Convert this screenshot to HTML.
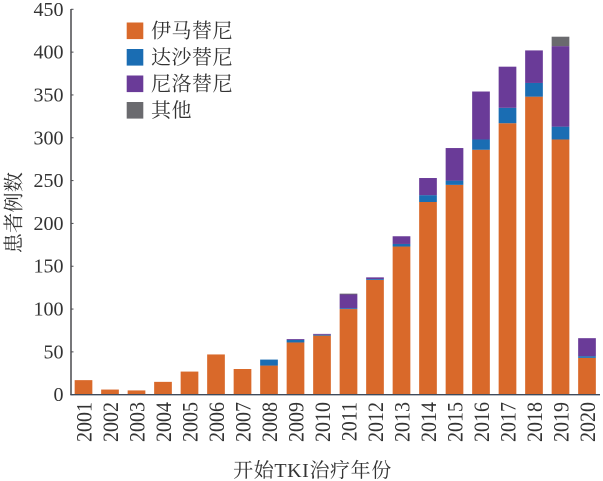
<!DOCTYPE html>
<html lang="zh">
<head>
<meta charset="utf-8">
<title>TKI chart</title>
<style>
html,body{margin:0;padding:0;background:#fff;width:603px;height:481px;overflow:hidden}
svg{display:block}
text{font-family:"Liberation Serif","Noto Serif CJK SC",serif;fill:#333;font-size:20px}
</style>
</head>
<body>
<svg id="chart" width="603" height="481" viewBox="0 0 603 481" xmlns="http://www.w3.org/2000/svg">
  <g id="bars"></g>
  <g id="y-ticks"></g>
  <g id="x-labels"></g>
  <line x1="71" y1="9" x2="71" y2="395" stroke="#4a4a4e" stroke-width="1.5"/>
  <line x1="70.3" y1="394.7" x2="600" y2="394.7" stroke="#3f4a5a" stroke-width="1.4"/>
  <text text-anchor="middle" letter-spacing="0.4" transform="translate(20.5,212.5) rotate(-90)">患者例数</text>
  <text x="312.5" y="477" text-anchor="middle" letter-spacing="0.6">开始TKI治疗年份</text>
  <g>
    <g>
      <rect x="126.7" y="22.5" width="16.6" height="16.6" fill="#d9692a"/>
      <text x="151" y="37.5" letter-spacing="0.5">伊马替尼</text>
    </g>
    <g>
      <rect x="126.7" y="49" width="16.6" height="16.6" fill="#1a6db3"/>
      <text x="151" y="64" letter-spacing="0.5">达沙替尼</text>
    </g>
    <g>
      <rect x="126.7" y="75.5" width="16.6" height="16.6" fill="#6a3b98"/>
      <text x="151" y="90.5" letter-spacing="0.5">尼洛替尼</text>
    </g>
    <g>
      <rect x="126.7" y="102" width="16.6" height="16.6" fill="#6a6a6e"/>
      <text x="151" y="117" letter-spacing="0.5">其他</text>
    </g>
  </g>
</svg>
<script>
const years = ['2001','2002','2003','2004','2005','2006','2007','2008','2009','2010','2011','2012','2013','2014','2015','2016','2017','2018','2019','2020'];
const imatinib = [17,6,5,15,27,47,30,34,61,69,100,134,173,225,245,286,317,348,298,43];
const dasatinib = [0,0,0,0,0,0,0,7,3,1,1,1,3,8,5,12,18,16,15,2];
const nilotinib = [0,0,0,0,0,0,0,0,1,1,16,2,9,20,38,56,48,38,94,21];
const other = [0,0,0,0,0,0,0,0,0,0,1,0,0,0,0,0,0,0,11,0];
const yTicks = [0,50,100,150,200,250,300,350,400,450];

const NS = 'http://www.w3.org/2000/svg';
function yScale(v){ return 394.7 - v * (385.4 / 450); }
function xScale(i){ return 83.5 + i * 26.5; }
const barWidth = 17.7;

const barsG = document.getElementById('bars');
const tickG = document.getElementById('y-ticks');
const labelG = document.getElementById('x-labels');

function addSegment(i, base, value, color, seriesName){
  if (value <= 0) return;
  const r = document.createElementNS(NS, 'rect');
  r.setAttribute('x', xScale(i) - barWidth / 2);
  r.setAttribute('y', yScale(base + value));
  r.setAttribute('width', barWidth);
  r.setAttribute('height', yScale(base) - yScale(base + value));
  r.setAttribute('fill', color);
  
  
  barsG.appendChild(r);
}

years.forEach(function(year, i){
  let base = 0;
  addSegment(i, base, imatinib[i], '#d9692a', 'imatinib');
  base += imatinib[i];
  addSegment(i, base, dasatinib[i], '#1a6db3', 'dasatinib');
  base += dasatinib[i];
  addSegment(i, base, nilotinib[i], '#6a3b98', 'nilotinib');
  base += nilotinib[i];
  addSegment(i, base, other[i], '#6a6a6e', 'other');

  const t = document.createElementNS(NS, 'text');
  t.setAttribute('text-anchor', 'end');
  t.setAttribute('transform', 'translate(' + (xScale(i) + 8) + ',402) rotate(-90) scale(1,1.13)');
  
  
  t.textContent = year;
  labelG.appendChild(t);
});

yTicks.forEach(function(v){
  const l = document.createElementNS(NS, 'line');
  l.setAttribute('x1', 71);
  l.setAttribute('x2', 73.5);
  l.setAttribute('y1', yScale(v));
  l.setAttribute('y2', yScale(v));
  l.setAttribute('stroke', '#4a4a4e');
  l.setAttribute('stroke-width', '1');
  
  
  tickG.appendChild(l);

  const t = document.createElementNS(NS, 'text');
  t.setAttribute('x', 63.5);
  t.setAttribute('y', yScale(v) + 6.5);
  t.setAttribute('text-anchor', 'end');
  
  
  t.textContent = v;
  tickG.appendChild(t);
});
</script>
</body>
</html>
